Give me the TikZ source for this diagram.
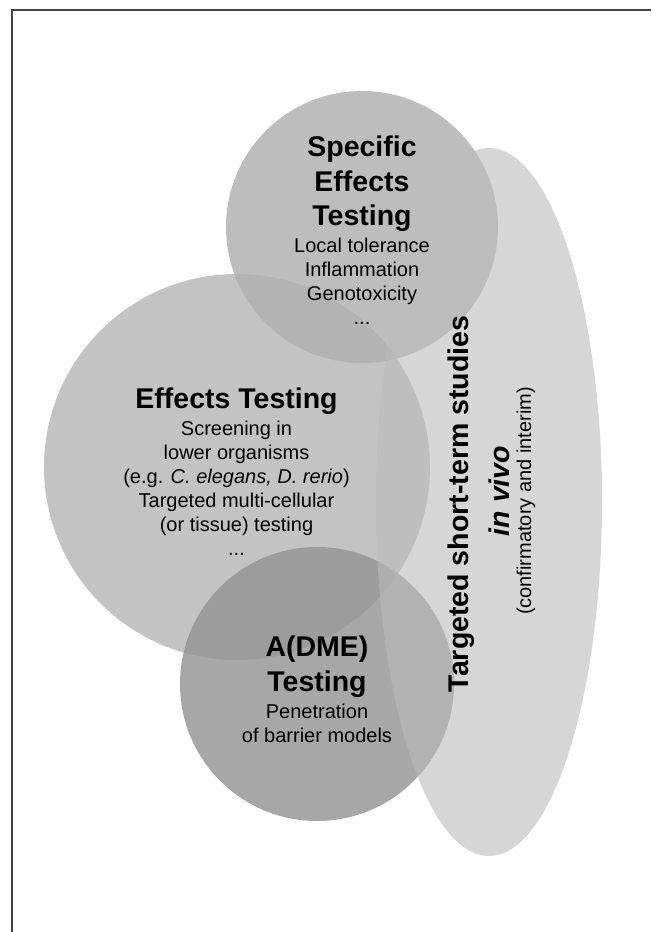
\documentclass[tikz,border=0pt]{standalone}
\usepackage{fontspec}
\setmainfont{Liberation Sans}
\usetikzlibrary{positioning}

\definecolor{effgray}{gray}{0.718}
\definecolor{specgray}{gray}{0.69}
\definecolor{admegray}{gray}{0.584}
\definecolor{vivogray}{gray}{0.733}
\definecolor{framegray}{gray}{0.27}

\newcommand{\ttlfont}{\fontsize{28.5}{34.5}\selectfont\bfseries}
\newcommand{\bodyfont}{\fontsize{20}{24}\selectfont}

\tikzset{
	ttl/.style={font=\ttlfont, align=center, inner sep=0pt, anchor=north},
	body/.style={font=\bodyfont, align=center, inner sep=0pt},
	side/.style={rotate=90, anchor=base, inner sep=0pt}
}

\begin{document}
\begin{tikzpicture}[x=1pt, y=1pt]

		\useasboundingbox (0,0) rectangle (651,932);
		\draw[line width=1.5pt, framegray] (12,0) -- (12,922) -- (651,922);

		\fill[effgray, opacity=0.83] (237,465) circle (193pt);
		\fill[specgray, opacity=0.83] (362,705) circle (136pt);
		\fill[admegray, opacity=0.83] (317,248) circle (137pt);
		\fill[vivogray, opacity=0.6] (489,430) ellipse (113pt and 354pt);

		\node[ttl] (specTitle) at (362,796) {Specific\\Effects\\Testing};
		\node[body, below=6pt of specTitle] (specBody) {Local tolerance\\Inflammation\\Genotoxicity\\...};

		\node[ttl] (effTitle) at (236.5,544) {Effects Testing};
		\node[body, below=6pt of effTitle] (effBody) {Screening in\\lower organisms\\(e.g. \textit{C. elegans, D. rerio})\\Targeted multi-cellular\\(or tissue) testing\\...};

		\node[ttl] (admeTitle) at (317,296) {A(DME)\\Testing};
		\node[body, below=6pt of admeTitle] (admeBody) {Penetration\\of barrier models};

		\node[side, font=\ttlfont] (target) at (468,428) {Targeted short-term studies};
		\node[side, font=\ttlfont\itshape] (vivo) at (509,441) {in vivo};
		\node[side, font=\bodyfont] (confirm) at (531,431) {(confirmatory and interim)};

\end{tikzpicture}
\end{document}
